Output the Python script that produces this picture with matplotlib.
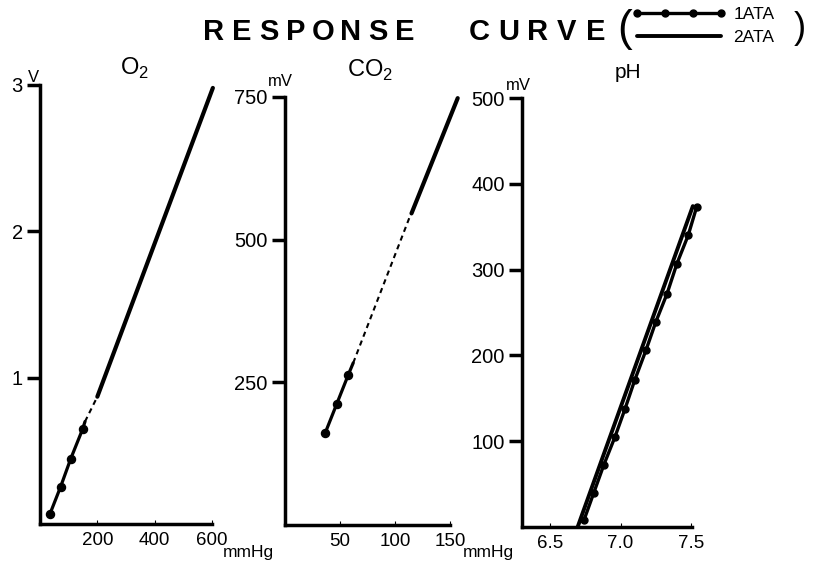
import numpy as np
import matplotlib
matplotlib.use("Agg")
import matplotlib.pyplot as plt

plt.rcParams["font.family"] = ["Liberation Sans", "DejaVu Sans"]
plt.rcParams["mathtext.fontset"] = "custom"
plt.rcParams["mathtext.rm"] = "Liberation Sans"

W, H = 816, 572

# O2 electrode (V vs mmHg)
o2_low_x = [35, 72, 107, 149, 157]
o2_low_y = [0.07, 0.255, 0.445, 0.65, 0.70]
o2_dash_x = [157, 200]
o2_dash_y = [0.70, 0.87]
o2_high_x = [200, 603]
o2_high_y = [0.87, 2.98]

# CO2 electrode (mV vs mmHg)
co2_low_x = [36.5, 47, 57.5, 62]
co2_low_y = [161, 212, 263, 284]
co2_dash_x = [62, 114]
co2_dash_y = [284, 543]
co2_high_x = [115, 157]
co2_high_y = [546, 748]

# pH electrode (mV vs pH)
ph_1ata_x = [6.74, 6.81, 6.88, 6.96, 7.03, 7.10, 7.18, 7.25, 7.33, 7.40, 7.48, 7.54]
ph_1ata_y = [8, 40, 72, 105, 137, 171, 206, 239, 272, 307, 340, 373]
ph_2ata_x = [6.695, 7.513]
ph_2ata_y = [0, 374]

o2_yticks = [1, 2, 3]
o2_xticks = [200, 400, 600]
co2_yticks = [250, 500, 750]
co2_xticks = [50, 100, 150]
ph_yticks = [100, 200, 300, 400, 500]
ph_xticks = [6.5, 7.0, 7.5]
ph_xticklabels = ["6.5", "7.0", "7.5"]


def px_axes(fig, left, right, top, bottom):
    return fig.add_axes([left / W, 1 - bottom / H, (right - left) / W, (bottom - top) / H])


def style(ax):
    for s in ["top", "right"]:
        ax.spines[s].set_visible(False)
    for s in ["left", "bottom"]:
        ax.spines[s].set_linewidth(2.5)
        ax.spines[s].set_capstyle("projecting")
    ax.tick_params(axis="y", direction="out", length=9.5, width=2.5, pad=3, labelsize=14.5)
    ax.tick_params(axis="x", direction="in", length=3, width=0.8, pad=6, labelsize=13.5)
    ax.patch.set_alpha(0)


fig = plt.figure(figsize=(W / 100, H / 100), dpi=100)
fig.patch.set_facecolor("white")

ax0 = fig.add_axes([0, 0, 1, 1])
ax0.set_xlim(0, W)
ax0.set_ylim(H, 0)
ax0.axis("off")

dash = (0, (2.5, 2))

# O2
ax1 = px_axes(fig, 40, 212, 85, 524)
ax1.plot(o2_low_x, o2_low_y, color="black", lw=2.3, marker="o", ms=5.8,
         markevery=[0, 1, 2, 3], solid_capstyle="round", clip_on=False)
ax1.plot(o2_dash_x, o2_dash_y, color="black", lw=1.5, ls=dash, clip_on=False)
ax1.plot(o2_high_x, o2_high_y, color="black", lw=3, solid_capstyle="round", clip_on=False)
ax1.set_xlim(0, 600)
ax1.set_ylim(0, 3)
ax1.set_xticks(o2_xticks)
ax1.set_yticks(o2_yticks)
style(ax1)

# CO2
ax2 = px_axes(fig, 285, 450, 97, 525)
ax2.plot(co2_low_x, co2_low_y, color="black", lw=2.3, marker="o", ms=5.8,
         markevery=[0, 1, 2], solid_capstyle="round", clip_on=False)
ax2.plot(co2_dash_x, co2_dash_y, color="black", lw=1.5, ls=dash, clip_on=False)
ax2.plot(co2_high_x, co2_high_y, color="black", lw=3, solid_capstyle="round", clip_on=False)
ax2.set_xlim(0, 150)
ax2.set_ylim(0, 750)
ax2.set_xticks(co2_xticks)
ax2.set_yticks(co2_yticks)
style(ax2)

# pH
ax3 = px_axes(fig, 522, 692, 98, 527)
l2, = ax3.plot(ph_2ata_x, ph_2ata_y, color="black", lw=2.8, solid_capstyle="round", clip_on=False)
l1, = ax3.plot(ph_1ata_x, ph_1ata_y, color="black", lw=2.4, marker="o", ms=5,
               solid_capstyle="round", clip_on=False)
ax3.set_xlim(6.30, 7.507)
ax3.set_ylim(0, 500)
ax3.set_xticks(ph_xticks)
ax3.set_xticklabels(ph_xticklabels)
ax3.set_yticks(ph_yticks)
style(ax3)

# panel titles and units
ax0.text(134, 68, "O$_2$", fontsize=17, ha="center", va="center")
ax0.text(370, 70, "CO$_2$", fontsize=17, ha="center", va="center")
ax0.text(628, 72, "pH", fontsize=15, ha="center", va="center")
ax0.text(33, 78, "V", fontsize=12, ha="center", va="center")
ax0.text(280, 82, "mV", fontsize=12, ha="center", va="center")
ax0.text(518, 86, "mV", fontsize=12, ha="center", va="center")
ax0.text(248, 552, "mmHg", fontsize=12.5, ha="center", va="center")
ax0.text(488, 552, "mmHg", fontsize=12.5, ha="center", va="center")

# spaced title lettering
for word, x_start, x_end in [("RESPONSE", 214, 405), ("CURVE", 479, 596)]:
    xs = np.linspace(x_start, x_end, len(word))
    for ch, x in zip(word, xs):
        ax0.text(x, 32, ch, fontsize=21, fontweight="bold", ha="center", va="center")

ax0.text(625, 30, "(", fontsize=32, ha="center", va="center")
ax0.text(800, 28, ")", fontsize=26, ha="center", va="center")

fig.legend([l1, l2], ["1ATA", "2ATA"], loc="upper left",
           bbox_to_anchor=(632 / W, 1 - 7 / H), frameon=False, numpoints=4,
           fontsize=12.5, handlelength=5.4, handletextpad=0.45, labelspacing=0.42,
           borderpad=0, borderaxespad=0)

fig.savefig("out.png", dpi=100)
plt.close(fig)
